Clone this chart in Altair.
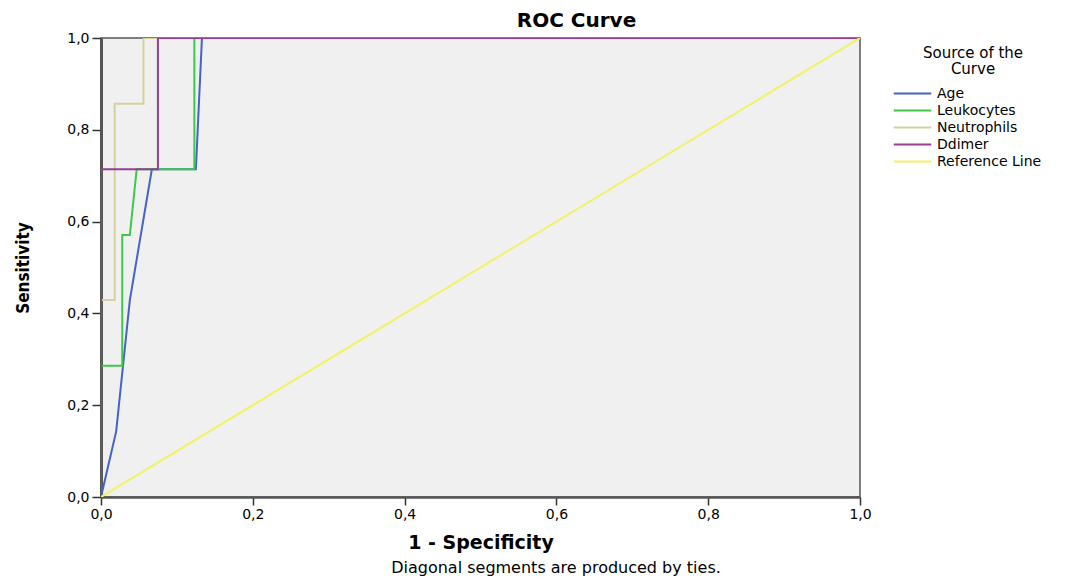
import altair as alt
import pandas as pd

series_names = ["Age", "Leukocytes", "Neutrophils", "Ddimer", "Reference Line"]
series_colors = ["#4662c2", "#3ec84a", "#d6d19c", "#953e95", "#f2f266"]

age_x = [0.0, 0.020, 0.038, 0.067, 0.125, 0.133, 1.0]
age_y = [0.0, 0.143, 0.429, 0.714, 0.714, 1.0, 1.0]

leuk_x = [0.0, 0.0, 0.028, 0.028, 0.038, 0.047, 0.123, 0.123, 1.0]
leuk_y = [0.0, 0.286, 0.286, 0.571, 0.571, 0.714, 0.714, 1.0, 1.0]

neut_x = [0.0, 0.0, 0.018, 0.018, 0.056, 0.056, 1.0]
neut_y = [0.0, 0.429, 0.429, 0.857, 0.857, 1.0, 1.0]

ddim_x = [0.0, 0.0, 0.075, 0.075, 1.0]
ddim_y = [0.0, 0.714, 0.714, 1.0, 1.0]

ref_x = [0.0, 1.0]
ref_y = [0.0, 1.0]

rows = []
for name, xs, ys in zip(series_names,
                        [age_x, leuk_x, neut_x, ddim_x, ref_x],
                        [age_y, leuk_y, neut_y, ddim_y, ref_y]):
    for i, (a, b) in enumerate(zip(xs, ys)):
        rows.append({"series": name, "fpr": a, "tpr": b, "idx": i})
df = pd.DataFrame(rows)

label_expr = "replace(format(datum.value, '.1f'), '.', ',')"
FONT = "DejaVu Sans"

lines = alt.Chart(df).mark_line(strokeWidth=2, clip=True).encode(
    x=alt.X("fpr:Q", scale=alt.Scale(domain=[0, 1], nice=False),
            axis=alt.Axis(values=[0, 0.2, 0.4, 0.6, 0.8, 1.0], labelExpr=label_expr,
                          title="1 - Specificity", grid=False, labelFlush=False,
                          titleFontSize=19, titleFont=FONT, titleFontWeight="bold",
                          titleColor="#000", titlePadding=12,
                          labelFont=FONT, labelFontSize=14, labelColor="#000",
                          labelPadding=2,
                          domainColor="#555", domainWidth=2.5,
                          tickColor="#333", tickSize=8, tickWidth=1.5)),
    y=alt.Y("tpr:Q", scale=alt.Scale(domain=[0, 1], nice=False),
            axis=alt.Axis(values=[0, 0.2, 0.4, 0.6, 0.8, 1.0], labelExpr=label_expr,
                          title="Sensitivity", grid=False, labelFlush=False,
                          titleFontSize=17, titleFont="DejaVu Sans Condensed, DejaVu Sans",
                          titleFontWeight="bold", titleColor="#000", titlePadding=34,
                          labelFont=FONT, labelFontSize=14, labelColor="#000",
                          labelPadding=3,
                          domainColor="#555", domainWidth=3,
                          tickColor="#333", tickSize=9, tickWidth=1.5)),
    color=alt.Color("series:N",
                    scale=alt.Scale(domain=series_names, range=series_colors),
                    sort=series_names,
                    legend=alt.Legend(title=["Source of the", "Curve"],
                                      orient="none", legendX=803, legendY=8,
                                      titleFont=FONT, titleFontSize=15,
                                      titleFontWeight="normal", titleColor="#000",
                                      titleAlign="center", titleAnchor="middle",
                                      titleLineHeight=16, titlePadding=8,
                                      labelFont=FONT, labelFontSize=14,
                                      labelColor="#000", labelOffset=16,
                                      symbolType="M-2.5,0H2.5", symbolSize=225,
                                      symbolStrokeWidth=1.8, rowPadding=1)),
    order=alt.Order("idx:Q"),
)

note = alt.Chart(pd.DataFrame({"t": ["Diagonal segments are produced by ties."]})).mark_text(
    font=FONT, fontSize=16, color="#000", align="center", baseline="middle"
).encode(text="t:N", x=alt.value(455), y=alt.value(530))

chart = alt.layer(lines, note).properties(
    width=759, height=459,
    title=alt.TitleParams("ROC Curve", font=FONT, fontSize=20, fontWeight="bold",
                          color="#000", anchor="middle", dx=96, offset=0),
    padding={"left": 93, "top": 30, "right": 200, "bottom": 81},
    autosize=alt.AutoSizeParams(type="none"),
).configure_view(fill="#f0f0f0", stroke="#555", strokeWidth=1.5)

chart.save("out.html", embed_options={"renderer": "svg", "actions": False})
